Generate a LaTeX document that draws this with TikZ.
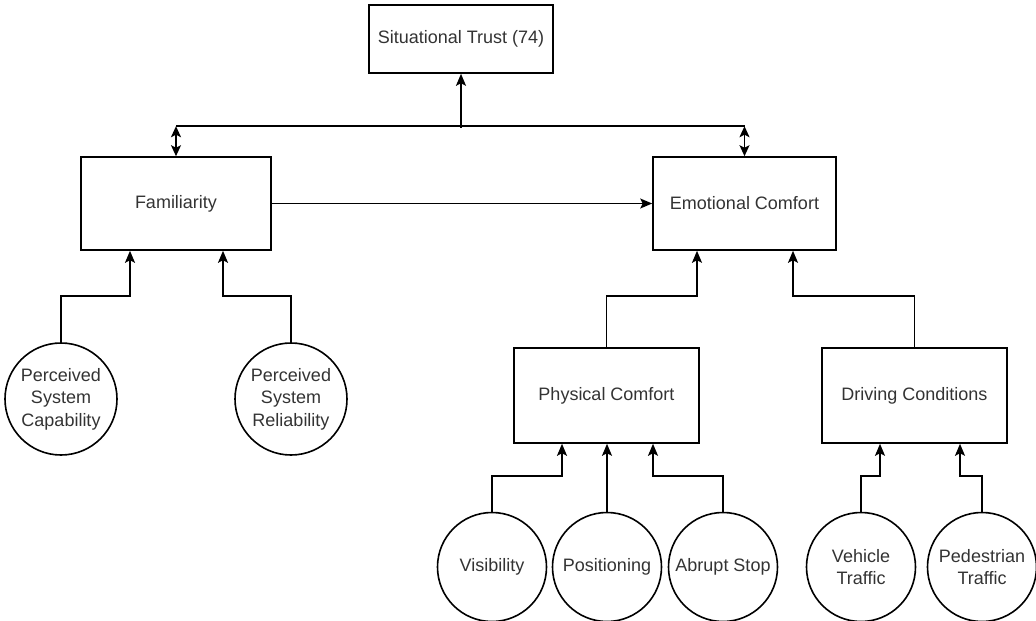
\documentclass[tikz,border=0pt]{standalone}
\usepackage{fontspec}
\setmainfont{Liberation Sans}
\usetikzlibrary{arrows.meta}
\begin{document}
\begin{tikzpicture}[x=1pt,y=-1pt,
  box/.style={draw,line width=1.6pt,rectangle,inner sep=0pt,text=black!80,font=\fontsize{18}{22.5}\selectfont},
  circ/.style={draw,line width=1.6pt,circle,inner sep=0pt,align=center,text=black!80,font=\fontsize{18}{22.5}\selectfont},
  conn/.style={line width=1.6pt},
  tip/.style={},
  arr/.style={line width=1.6pt,-{Stealth[length=12pt,width=10pt,inset=2.5pt]}},
  dbl/.style={line width=1.6pt,{Stealth[length=11pt,width=10pt,inset=2.5pt]}-{Stealth[length=11pt,width=10pt,inset=2.5pt]}}]
\useasboundingbox (0,0) rectangle (1036,621);
\node[box,minimum width=184pt,minimum height=68pt] (st) at (461,39) {Situational Trust (74)};
\node[box,minimum width=190pt,minimum height=93pt] (fam) at (176,203.5) {Familiarity};
\node[box,minimum width=183pt,minimum height=93pt] (ec) at (744.5,203.5) {Emotional Comfort};
\node[box,minimum width=185pt,minimum height=95pt] (pc) at (606.5,395.5) {Physical Comfort};
\node[box,minimum width=185pt,minimum height=95pt] (dc) at (914.5,395.5) {Driving Conditions};
\node[circ,minimum size=112pt] (psc) at (61,399) {Perceived\\System\\Capability};
\node[circ,minimum size=112pt] (psr) at (291,399) {Perceived\\System\\Reliability};
\node[circ,minimum size=109pt] (vis) at (492,567) {Visibility};
\node[circ,minimum size=109pt] (pos) at (607,567) {Positioning};
\node[circ,minimum size=109pt] (abr) at (723,567) {Abrupt Stop};
\node[circ,minimum size=109pt] (veh) at (861,567) {Vehicle\\Traffic};
\node[circ,minimum size=109pt] (ped) at (982,567) {Pedestrian\\Traffic};
% top junction
\coordinate (jl) at ([yshift=30pt]fam.north);
\coordinate (jr) at ([yshift=30pt]ec.north);
\coordinate (jm) at ([yshift=-54pt]st.south);
\draw[conn] (jl) -- (jr);
\draw[arr] (jm) -- (st.south);
\draw[dbl] (jl) -- (fam.north);
\draw[dbl] (jr) -- (ec.north);
\draw[arr] (fam.east) -- (ec.west);
% familiarity inputs
\draw[arr] (psc.north) -- ++(0,-46) -| ([xshift=-46pt]fam.south);
\draw[arr] (psr.north) -- ++(0,-46) -| ([xshift=47pt]fam.south);
% emotional comfort inputs
\draw[arr] (pc.north) -- ++(0,-51) -| ([xshift=-47.5pt]ec.south);
\draw[arr] (dc.north) -- ++(0,-51) -| ([xshift=48.5pt]ec.south);
% physical comfort inputs
\draw[arr] (vis.north) -- ++(0,-36) -| ([xshift=-44.5pt]pc.south);
\draw[arr] (pos.north) -- (pos.north |- pc.south);
\draw[arr] (abr.north) -- ++(0,-36) -| ([xshift=46.5pt]pc.south);
% driving conditions inputs
\draw[arr] (veh.north) -- ++(0,-36) -| ([xshift=-34.5pt]dc.south);
\draw[arr] (ped.north) -- ++(0,-36) -| ([xshift=45.5pt]dc.south);
\end{tikzpicture}
\end{document}
